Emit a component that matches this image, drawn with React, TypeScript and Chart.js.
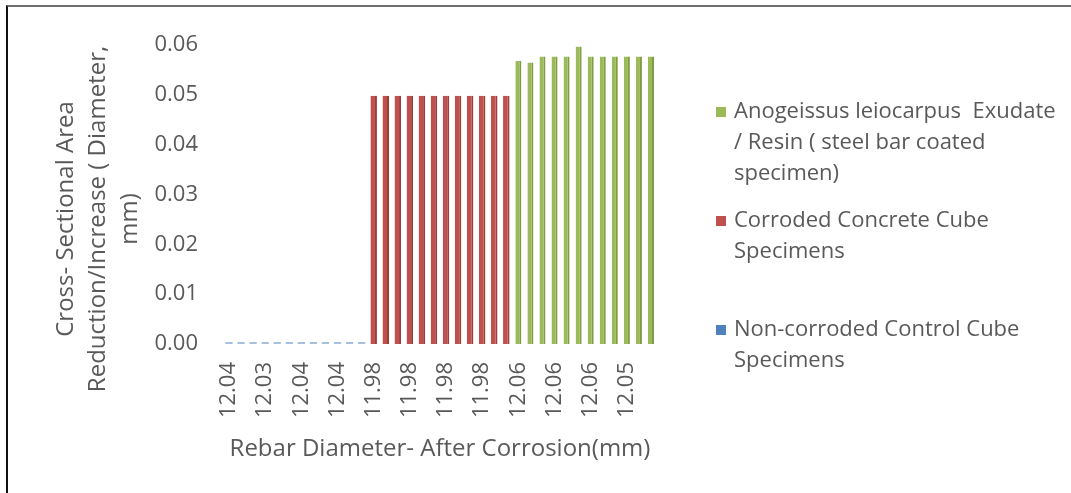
import React, { useEffect, useRef } from "react";
import { Chart, registerables } from "chart.js";

Chart.register(...registerables);

// Rebar diameter after corrosion (mm), one entry per specimen bar
const diameters = [
  "12.04", "12.04", "12.03", "12.03", "12.04", "12.03", "12.04", "12.04", "12.03", "12.04", "12.03", "12.04",
  "11.98", "11.98", "11.98", "11.98", "11.98", "11.98", "11.98", "11.98", "11.98", "11.98", "11.98", "11.98",
  "12.06", "12.06", "12.06", "12.06", "12.06", "12.06", "12.06", "12.06", "12.06", "12.05", "12.05", "12.05",
];

// Cross-sectional diameter reduction / increase (mm) for each group
const controlValues = [0, 0, 0, 0, 0, 0, 0, 0, 0, 0, 0, 0];
const corrodedValues = [
  0.0498, 0.0498, 0.0498, 0.0498, 0.0498, 0.0498, 0.0498, 0.0498, 0.0498, 0.0498, 0.0498, 0.0498,
];
const coatedValues = [
  0.0568, 0.0565, 0.0577, 0.0577, 0.0577, 0.0597, 0.0577, 0.0577, 0.0577, 0.0577, 0.0577, 0.0577,
];

const yTicks = [0, 0.01, 0.02, 0.03, 0.04, 0.05, 0.06];

const seriesNames = {
  coated: ["Anogeissus leiocarpus  Exudate", "/ Resin ( steel bar coated", "specimen)"],
  corroded: ["Corroded Concrete Cube", "Specimens"],
  control: ["Non-corroded Control Cube", "Specimens"],
};

const yTitle = ["Cross- Sectional Area", "Reduction/Increase ( Diameter,", "mm)"];
const xTitle = "Rebar Diameter- After Corrosion(mm)";

const GREEN = "#9BBB59";
const GREEN_EDGE = "#7E9C44";
const RED = "#C0504D";
const RED_EDGE = "#9C3E3B";
const BLUE = "#4F81BD";
const TEXT = "#595959";
const FONT = "'Open Sans', sans-serif";

const nulls = (n: number) => Array.from({ length: n }, () => null as number | null);

export default function App() {
  const canvasRef = useRef<HTMLCanvasElement | null>(null);

  useEffect(() => {
    const canvas = canvasRef.current;
    if (!canvas) return;

    const nControl = controlValues.length;
    const nCorroded = corrodedValues.length;
    const nCoated = coatedValues.length;

    const controlData = [...controlValues, ...nulls(nCorroded + nCoated)];
    const corrodedData = [...nulls(nControl), ...corrodedValues, ...nulls(nCoated)];
    const coatedData = [...nulls(nControl + nCorroded), ...coatedValues];

    // Side legend and rotated y title
    const sideText = {
      id: "sideText",
      afterDraw(chart: Chart) {
        const ctx = chart.ctx;
        ctx.save();
        ctx.fillStyle = TEXT;
        ctx.textBaseline = "alphabetic";

        // y-axis title, three rotated lines
        ctx.font = `24px ${FONT}`;
        const cy = 219;
        yTitle.forEach((line, i) => {
          ctx.save();
          ctx.translate(73 + i * 32, cy);
          ctx.rotate(-Math.PI / 2);
          ctx.textAlign = "center";
          ctx.fillText(line, 0, 0);
          ctx.restore();
        });

        // legend entries
        ctx.font = `22px ${FONT}`;
        const entries: [string, string[], number][] = [
          [GREEN, seriesNames.coated, 118],
          [RED, seriesNames.corroded, 227],
          [BLUE, seriesNames.control, 336],
        ];
        ctx.textAlign = "left";
        entries.forEach(([color, lines, base]) => {
          ctx.fillStyle = color;
          ctx.fillRect(716, base - 11, 10, 10);
          ctx.fillStyle = TEXT;
          lines.forEach((l, i) => ctx.fillText(l, 734, base + i * 31));
        });
        ctx.restore();
      },
    };

    const chart = new Chart(canvas, {
      type: "bar",
      data: {
        labels: diameters,
        datasets: [
          {
            label: seriesNames.control.join(" "),
            data: controlData,
            backgroundColor: "rgba(79,129,189,0.5)",
            minBarLength: 2,
            barPercentage: 0.6,
            categoryPercentage: 1,
          },
          {
            label: seriesNames.corroded.join(" "),
            data: corrodedData,
            backgroundColor: RED,
            borderColor: RED_EDGE,
            borderWidth: { left: 0, right: 2, top: 0, bottom: 0 },
            borderSkipped: false,
            barPercentage: 0.54,
            categoryPercentage: 1,
          },
          {
            label: seriesNames.coated.join(" "),
            data: coatedData,
            backgroundColor: GREEN,
            borderColor: GREEN_EDGE,
            borderWidth: { left: 0, right: 2, top: 0, bottom: 0 },
            borderSkipped: false,
            barPercentage: 0.5,
            categoryPercentage: 1,
          },
        ],
      },
      options: {
        responsive: false,
        animation: false,
        layout: { padding: { left: 0, top: 45, right: 414, bottom: 29 } },
        plugins: {
          legend: { display: false },
          tooltip: { enabled: false },
        },
        scales: {
          x: {
            stacked: true,
            grid: { display: false, drawTicks: false },
            border: { display: false },
            ticks: {
              autoSkip: false,
              minRotation: 90,
              maxRotation: 90,
              padding: 18,
              color: TEXT,
              font: { family: FONT, size: 22 },
              callback: (_v: any, i: number) => (i % 3 === 0 ? diameters[i] : ""),
            },
            title: {
              display: true,
              text: xTitle,
              color: TEXT,
              font: { family: FONT, size: 24, lineHeight: 1.2 },
              padding: { top: 0, bottom: 0 },
            },
            afterFit: (scale: any) => {
              scale.height = 120;
            },
          },
          y: {
            stacked: true,
            min: 0,
            max: 0.06,
            grid: { display: false, drawTicks: false },
            border: { display: false },
            afterBuildTicks: (scale: any) => {
              scale.ticks = yTicks.map((v) => ({ value: v }));
            },
            ticks: {
              padding: 25,
              color: TEXT,
              font: { family: FONT, size: 22 },
              callback: (v: any) => Number(v).toFixed(2),
            },
            afterFit: (scale: any) => {
              scale.width = 223;
            },
          },
        },
      },
      plugins: [sideText],
    });

    return () => chart.destroy();
  }, []);

  return (
    <div style={{ position: "fixed", left: 0, top: 0, width: 1071, height: 493, background: "#fff" }}>
      <div
        style={{
          position: "absolute",
          left: 6,
          top: 5,
          right: 0,
          bottom: 0,
          borderTop: "2px solid #6f6f6f",
          borderLeft: "2px solid #111",
        }}
      />
      <canvas ref={canvasRef} width={1071} height={493} style={{ position: "absolute", left: 0, top: 0 }} />
    </div>
  );
}
